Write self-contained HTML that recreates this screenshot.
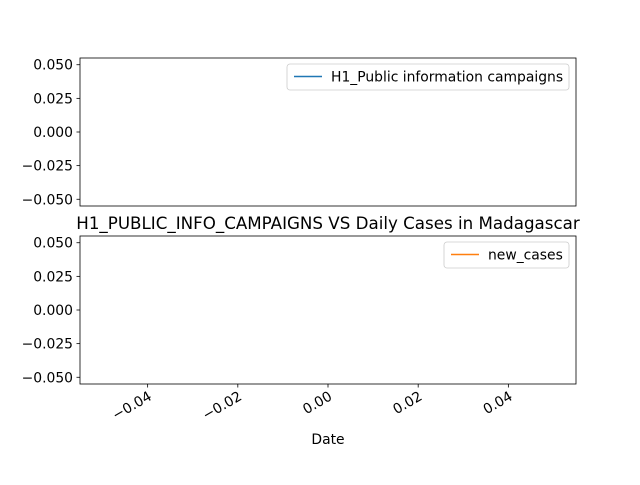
<!DOCTYPE html>
<html><head><meta charset="utf-8"><style>
body{margin:0;background:#fff}
svg{font-family:"DejaVu Sans","Liberation Sans",sans-serif}
</style></head><body>
<svg id="c" width="640" height="480" xmlns="http://www.w3.org/2000/svg">
<rect width="640" height="480" fill="#fff"/>
</svg>
<script>
const xTicks=[-0.04,-0.02,0.00,0.02,0.04];
const xTickLabels=["\u22120.04","\u22120.02","0.00","0.02","0.04"];
const yTicks=[0.05,0.025,0,-0.025,-0.05];
const yTickLabels=["0.050","0.025","0.000","\u22120.025","\u22120.050"];
const dates=[];
const campaignValues=[];
const newCasesValues=[];
const svg=document.getElementById('c');
const NS="http://www.w3.org/2000/svg";
function mk(t,a,p){const e=document.createElementNS(NS,t);for(const k in a)e.setAttribute(k,a[k]);(p||svg).appendChild(e);return e;}
const X0=80,X1=576;
function xs(v){return X0+(v+0.055)/0.11*(X1-X0);}
function panel(top,name,legendText,color,lx,lw,vals){
  const bot=top+148;
  function ys(v){return bot-(v+0.055)/0.11*148;}
  const g=mk('g',{});
  
  
  yTicks.forEach((v,i)=>{
    const y=ys(v);
    const t=mk('line',{x1:X0-3.5,x2:X0,y1:y,y2:y,stroke:'#000','stroke-width':0.8},g);
    
    
    const l=mk('text',{x:X0-7,y:y+5,'text-anchor':'end','font-size':13.9},g);
    l.textContent=yTickLabels[i];
    
    
  });
  if(vals.length){
    const pts=vals.map((v,i)=>xs(dates[i])+','+ys(v)).join(' ');
    const pl=mk('polyline',{points:pts,fill:'none',stroke:color,'stroke-width':1.5},g);
    
    
  }
  const r=mk('rect',{x:X0,y:top,width:X1-X0,height:148,fill:'none',stroke:'#000','stroke-width':0.8},g);
  
  
  const lg=mk('g',{},g);
  
  
  mk('rect',{x:lx,y:top+6,width:lw,height:26,rx:3,fill:'#fff',stroke:'#ccc','stroke-width':0.8},lg);
  mk('line',{x1:lx+7,x2:lx+35,y1:top+18.5,y2:top+18.5,stroke:color,'stroke-width':1.5},lg);
  const lt=mk('text',{x:lx+44,y:top+23.5,'font-size':13.9},lg);
  lt.textContent=legendText;
  return ys;
}
panel(58,'top-axes','H1_Public information campaigns','#1f77b4',287,282,campaignValues);
panel(236,'bottom-axes','new_cases','#ff7f0e',444,125,newCasesValues);
xTicks.forEach((v,i)=>{
  const x=xs(v);
  const t=mk('line',{x1:x,x2:x,y1:384,y2:387.5,stroke:'#000','stroke-width':0.8});
  
  
  const l=mk('text',{x:x+5,y:399,'text-anchor':'end','font-size':13.9,transform:`rotate(-30 ${x+5} 399)`});
  l.textContent=xTickLabels[i];
  
  
});
const ti=mk('text',{x:328,y:229,'text-anchor':'middle','font-size':16.7});
ti.textContent='H1_PUBLIC_INFO_CAMPAIGNS VS Daily Cases in Madagascar';


const xl=mk('text',{x:328,y:444,'text-anchor':'middle','font-size':13.9});
xl.textContent='Date';


</script>
</body></html>
